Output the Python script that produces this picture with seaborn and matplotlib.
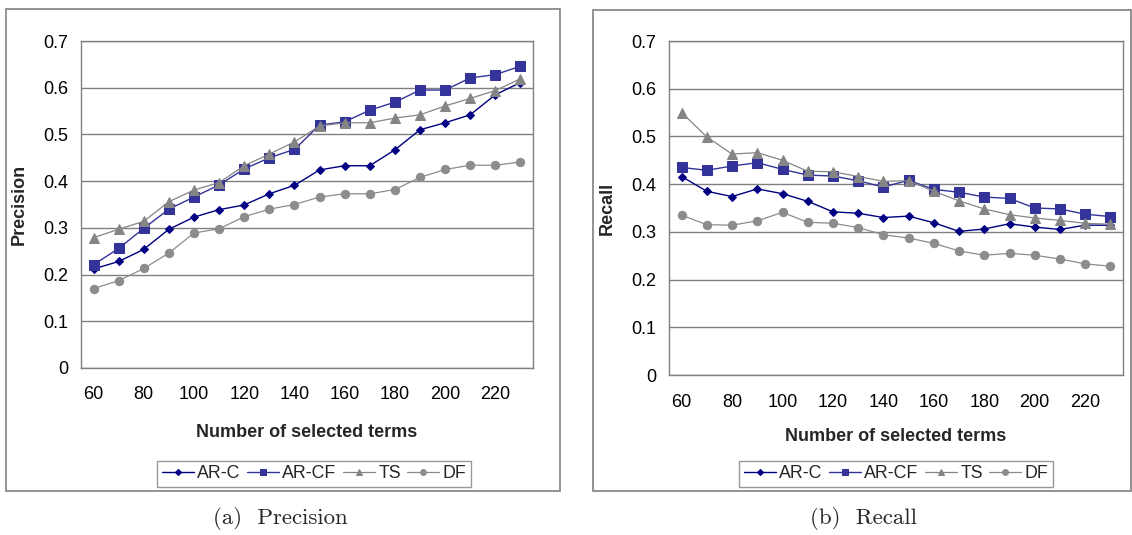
import matplotlib
matplotlib.use("Agg")
import matplotlib.pyplot as plt
import matplotlib.patches as mpatches
from matplotlib.ticker import FixedLocator
import numpy as np
import pandas as pd
import seaborn as sns

# ---------------- data ----------------
terms = [60, 70, 80, 90, 100, 110, 120, 130, 140, 150, 160, 170, 180, 190, 200, 210, 220, 230]
methods = ["AR-C", "AR-CF", "TS", "DF"]

prec_arc = [0.212, 0.228, 0.254, 0.297, 0.323, 0.339, 0.349, 0.373, 0.391, 0.424, 0.433, 0.433,
            0.467, 0.510, 0.525, 0.542, 0.585, 0.611]
prec_arcf = [0.221, 0.256, 0.299, 0.340, 0.366, 0.392, 0.426, 0.450, 0.468, 0.520, 0.527, 0.552,
             0.569, 0.595, 0.595, 0.621, 0.628, 0.646]
prec_ts = [0.279, 0.297, 0.314, 0.356, 0.381, 0.397, 0.433, 0.458, 0.484, 0.518, 0.525, 0.525,
           0.535, 0.542, 0.561, 0.577, 0.594, 0.619]
prec_df = [0.170, 0.187, 0.213, 0.246, 0.289, 0.298, 0.324, 0.340, 0.350, 0.366, 0.373, 0.373,
           0.382, 0.408, 0.425, 0.434, 0.434, 0.441]

rec_arc = [0.416, 0.385, 0.374, 0.390, 0.380, 0.364, 0.342, 0.339, 0.330, 0.333, 0.319, 0.301,
           0.306, 0.317, 0.310, 0.305, 0.314, 0.314]
rec_arcf = [0.435, 0.429, 0.438, 0.445, 0.431, 0.419, 0.417, 0.407, 0.394, 0.408, 0.389, 0.383,
            0.373, 0.370, 0.350, 0.348, 0.337, 0.332]
rec_ts = [0.550, 0.499, 0.463, 0.466, 0.450, 0.427, 0.426, 0.416, 0.406, 0.407, 0.385, 0.365,
          0.348, 0.336, 0.329, 0.324, 0.318, 0.316]
rec_df = [0.335, 0.315, 0.314, 0.323, 0.341, 0.320, 0.318, 0.309, 0.294, 0.287, 0.276, 0.260,
          0.251, 0.255, 0.251, 0.243, 0.233, 0.228]

xtick_labels = [60, 80, 100, 120, 140, 160, 180, 200, 220]
yticks = [0, 0.1, 0.2, 0.3, 0.4, 0.5, 0.6, 0.7]
captions = ["(a)  Precision", "(b)  Recall"]
ylabels = ["Precision", "Recall"]
xlabel = "Number of selected terms"

# ---------------- style ----------------
sns.set_style("white")
plt.rcParams["font.family"] = ["Liberation Sans", "DejaVu Sans"]

styles = {
    "AR-C": dict(color="#000080", marker="D", markersize=4.5, lw=1.0),
    "AR-CF": dict(color="#333399", marker="s", markersize=6.5, lw=1.0),
    "TS": dict(color="#858585", marker="^", markersize=6.5, lw=0.9),
    "DF": dict(color="#8c8c8c", marker="o", markersize=6, lw=0.9),
}

W, H = 1132, 535
fig = plt.figure(figsize=(W / 100, H / 100), dpi=100)

def fx(px):
    return px / W

def fy(py):
    return 1 - py / H

# axes rectangles (pixels: left, top, right, bottom)
ax_px = [(81, 41, 533, 368), (669, 41, 1123, 375)]
box_px = [(6, 9, 560, 491), (593, 10, 1131, 491)]
legend_center = [(314, 474), (896, 474)]
caption_center = [(280, 519), (863, 519)]
ylabel_x = [-0.118, -0.117]
xtick_pad = [13, 14]
xlabel_pad = [15, 12]

grey = "#808080"
FS = 13

datasets = [
    [prec_arc, prec_arcf, prec_ts, prec_df],
    [rec_arc, rec_arcf, rec_ts, rec_df],
]

for i in range(2):
    # outer chart box
    bl, bt, br, bb = box_px[i]
    fig.patches.append(mpatches.Rectangle((fx(bl), fy(bb)), fx(br - bl), (bb - bt) / H,
                                          transform=fig.transFigure, fill=False,
                                          edgecolor=grey, lw=1.2, zorder=0))
    l, t, r, b = ax_px[i]
    ax = fig.add_axes([fx(l), fy(b), fx(r - l), (b - t) / H])
    for m, vals in zip(methods, datasets[i]):
        st = styles[m]
        df_m = pd.DataFrame({"terms": terms, "value": vals})
        sns.lineplot(data=df_m, x="terms", y="value", ax=ax, color=st["color"],
                     marker=st["marker"], markersize=st["markersize"],
                     markeredgecolor=st["color"], markerfacecolor=st["color"],
                     linewidth=st["lw"], label=m, legend=False, zorder=3)
    ax.set_xlim(55, 235)
    ax.set_ylim(0, 0.7)
    ax.set_yticks(yticks)
    ax.set_yticklabels(["0"] + [f"{v:.1f}" for v in yticks[1:]])
    ax.xaxis.set_major_locator(FixedLocator(xtick_labels))
    ax.set_xticklabels([str(v) for v in xtick_labels])
    ax.xaxis.set_minor_locator(FixedLocator(np.arange(55, 236, 10)))
    ax.tick_params(axis="x", which="major", length=0, pad=xtick_pad[i],
                   labelsize=FS, colors="black")
    ax.tick_params(axis="x", which="minor", length=4.5, width=1, color=grey, direction="out")
    ax.tick_params(axis="y", which="major", length=5, width=1, color=grey, direction="out",
                   labelsize=FS, pad=4, labelcolor="black")
    ax.grid(axis="y", color=grey, lw=1.0, zorder=1)
    ax.set_axisbelow(True)
    for s in ax.spines.values():
        s.set_visible(True)
        s.set_color(grey)
        s.set_linewidth(1.0)
    ax.set_xlabel(xlabel, fontsize=FS, fontweight="bold", labelpad=xlabel_pad[i])
    ax.set_ylabel(ylabels[i], fontsize=FS, fontweight="bold")
    ax.yaxis.set_label_coords(ylabel_x[i], 0.5)
    leg = ax.get_legend()
    if leg is not None:
        leg.remove()
    h, lab = ax.get_legend_handles_labels()
    cx, cy = legend_center[i]
    lg = fig.legend(h, lab, loc="center", bbox_to_anchor=(fx(cx), fy(cy)), ncol=4,
                    frameon=True, fancybox=False, edgecolor=grey, fontsize=12.8,
                    handlelength=1.8, handletextpad=0.2, columnspacing=0.35,
                    borderpad=0.25, borderaxespad=0.2, markerscale=0.7)
    lg.get_frame().set_linewidth(1.0)
    ccx, ccy = caption_center[i]
    fig.text(fx(ccx), fy(ccy), captions[i], ha="center", va="center",
             fontsize=16.5, family=["cmr10", "DejaVu Serif"])

fig.savefig("out.png", dpi=100)
